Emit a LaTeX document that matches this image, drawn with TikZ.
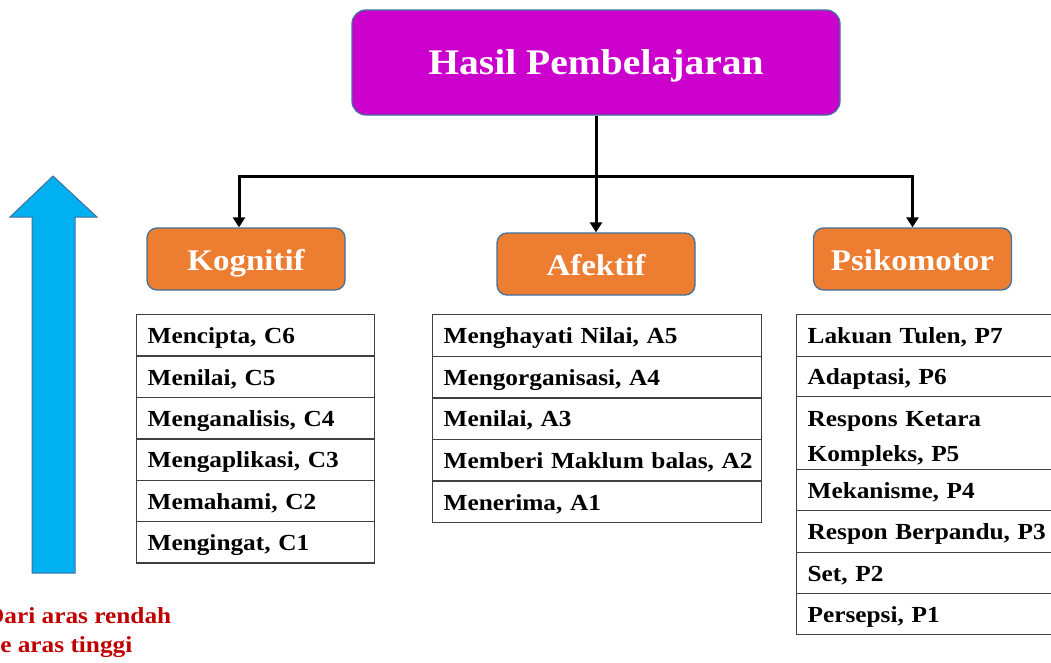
\documentclass[tikz,border=0pt]{standalone}
\usepackage{fontspec}
\setmainfont[FakeStretch=1.1]{Liberation Serif}
\usetikzlibrary{arrows.meta}
\definecolor{mag}{HTML}{CC00CC}
\definecolor{org}{HTML}{ED7D31}
\definecolor{bdr}{HTML}{41719C}
\definecolor{sky}{HTML}{00B0F0}
\definecolor{dred}{HTML}{C00000}
\definecolor{tline}{HTML}{404040}
\begin{document}
\begin{tikzpicture}[x=1pt,y=-1pt,
  titlebox/.style={rounded corners=14pt, fill=mag, draw=bdr, line width=1.3pt,
    minimum width=488pt, minimum height=105pt, inner sep=0pt, text=white,
    font=\bfseries\fontsize{36}{42}\selectfont, text height=28pt, text depth=4pt},
  catbox/.style={rounded corners=10pt, fill=org, draw=bdr, line width=1.3pt,
    minimum width=198pt, minimum height=62pt, inner sep=0pt, text=white,
    font=\bfseries\fontsize{30}{36}\selectfont, text height=25pt, text depth=3pt},
  row/.style={draw=tline, line width=1.3pt, anchor=north west, inner xsep=11pt,
    inner ysep=0pt, align=left, font=\bfseries\fontsize{23}{35}\selectfont},
  onel/.style={text height=19.5pt, text depth=3pt},
  kr/.style={row, onel, minimum width=238pt, text width=216pt, minimum height=41.4pt},
  ar/.style={row, onel, minimum width=329pt, text width=307pt, minimum height=41.6pt},
  pr/.style={row, minimum width=270pt, text width=248pt},
  conn/.style={line width=3pt, -{Triangle[width=12pt,length=10pt]}},
  lbl/.style={anchor=base west, inner sep=0pt, text=dred, font=\bfseries\fontsize{23}{29}\selectfont}
]
\clip (0,0) rectangle (1051,662);
\useasboundingbox (0,0) rectangle (1051,662);
\fill[white] (0,0) rectangle (1051,662);

% title
\node[titlebox] (top) at (596,62.5) {Hasil Pembelajaran};

% categories
\node[catbox] (kog) at (246,259) {Kognitif};
\node[catbox] (afe) at (596,264) {Afektif};
\node[catbox] (psi) at (912.5,259) {Psikomotor};

% connectors
\coordinate (j) at (596,176);
\draw[conn] (top.south) -- (afe.north);
\draw[conn] (j) -| ([xshift=-7pt]kog.north);
\draw[conn] (j) -| (psi.north);

% Kognitif table
\node[kr] (k6) at (136,314) {Mencipta, C6};
\node[kr] (k5) at (136,355.4) {Menilai, C5};
\node[kr] (k4) at (136,396.8) {Menganalisis, C4};
\node[kr] (k3) at (136,438.2) {Mengaplikasi, C3};
\node[kr] (k2) at (136,479.6) {Memahami, C2};
\node[kr] (k1) at (136,521) {Mengingat, C1};

% Afektif table
\node[ar] (a5) at (432,314) {Menghayati Nilai, A5};
\node[ar] (a4) at (432,355.6) {Mengorganisasi, A4};
\node[ar] (a3) at (432,397.2) {Menilai, A3};
\node[ar] (a2) at (432,438.8) {\mbox{Memberi Maklum balas, A2}};
\node[ar] (a1) at (432,480.4) {Menerima, A1};

% Psikomotor table
\node[pr, onel, minimum height=42pt] (p7) at (796,314) {Lakuan Tulen, P7};
\node[pr, onel, minimum height=40pt] (p6) at (796,356) {Adaptasi, P6};
\node[pr, minimum height=73pt] (p5) at (796,396) {\rule{0pt}{26pt}Respons Ketara\\Kompleks, P5\rule[-5pt]{0pt}{5pt}};
\node[pr, onel, minimum height=41pt] (p4) at (796,469) {Mekanisme, P4};
\node[pr, onel, minimum height=42pt] (p3) at (796,510) {\mbox{Respon Berpandu, P3}};
\node[pr, onel, minimum height=41pt] (p2) at (796,552) {Set, P2};
\node[pr, onel, minimum height=41pt] (p1) at (796,593) {Persepsi, P1};

% blue arrow
\draw[fill=sky, draw=bdr, line width=1pt] (53,176) -- (97,217) -- (75,217) -- (75,573)
  -- (32,573) -- (32,217) -- (10,217) -- cycle;

% label
\node[lbl] (l1) at (-14,623) {Dari aras rendah};
\node[lbl] (l2) at (-14,652) {ke aras tinggi};
\end{tikzpicture}
\end{document}
